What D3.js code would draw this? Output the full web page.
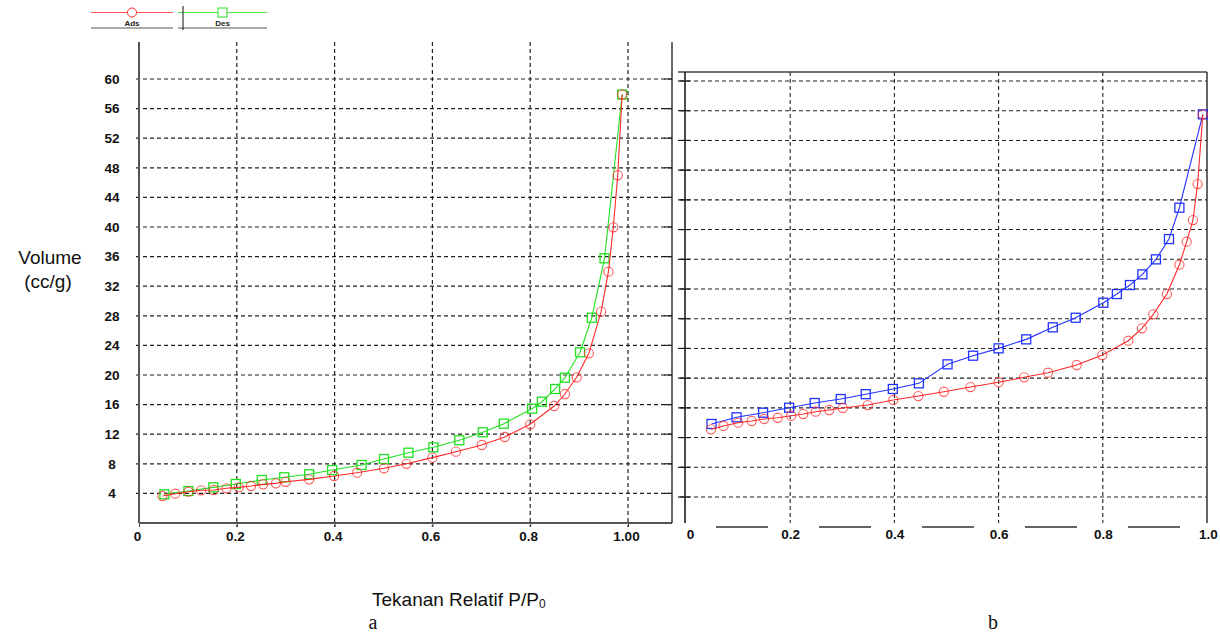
<!DOCTYPE html>
<html>
<head>
<meta charset="utf-8">
<script src="https://cdn.jsdelivr.net/npm/d3@7"></script>
<style>
  body { margin: 0; background: #fff; }
  svg { display: block; font-family: "Liberation Sans", Arial, sans-serif; }
</style>
</head>
<body>
<div id="chart"></div>
<script>
// Panel a: adsorption / desorption
const adsAx = [0.048, 0.074, 0.101, 0.127, 0.153, 0.179, 0.204, 0.229, 0.254, 0.28, 0.3, 0.348, 0.399, 0.446, 0.501, 0.547, 0.6, 0.648, 0.701, 0.748, 0.8, 0.849, 0.871, 0.895, 0.92, 0.945, 0.96, 0.97, 0.979, 0.988];
const adsAy = [3.65, 3.96, 4.23, 4.42, 4.46, 4.69, 4.82, 5.0, 5.22, 5.36, 5.57, 5.9, 6.35, 6.8, 7.39, 8.0, 8.83, 9.64, 10.54, 11.62, 13.34, 15.81, 17.43, 19.69, 22.93, 28.56, 33.96, 39.96, 46.99, 57.9];
const desAx = [0.052, 0.101, 0.152, 0.198, 0.251, 0.297, 0.348, 0.395, 0.455, 0.501, 0.551, 0.602, 0.655, 0.703, 0.746, 0.804, 0.824, 0.851, 0.871, 0.902, 0.926, 0.952, 0.988];
const desAy = [3.88, 4.32, 4.82, 5.27, 5.81, 6.18, 6.58, 7.16, 7.84, 8.65, 9.5, 10.23, 11.18, 12.26, 13.42, 15.45, 16.39, 18.11, 19.64, 23.07, 27.74, 35.77, 57.9];

// Panel b
const adsBx = [0.048, 0.072, 0.1, 0.126, 0.15, 0.176, 0.202, 0.225, 0.249, 0.275, 0.301, 0.349, 0.398, 0.446, 0.495, 0.546, 0.6, 0.649, 0.695, 0.75, 0.799, 0.849, 0.875, 0.897, 0.923, 0.947, 0.961, 0.973, 0.982, 0.992];
const adsBy = [13.11, 13.56, 14.0, 14.23, 14.5, 14.67, 14.94, 15.17, 15.48, 15.71, 15.98, 16.38, 17.06, 17.59, 18.17, 18.8, 19.45, 20.11, 20.73, 21.77, 23.11, 25.04, 26.71, 28.59, 31.32, 35.27, 38.37, 41.28, 46.13, 55.51];
const desBx = [0.049, 0.097, 0.148, 0.198, 0.247, 0.297, 0.345, 0.397, 0.447, 0.502, 0.551, 0.6, 0.653, 0.704, 0.748, 0.801, 0.827, 0.852, 0.876, 0.902, 0.927, 0.947, 0.992];
const desBy = [13.83, 14.73, 15.35, 16.02, 16.65, 17.19, 17.84, 18.54, 19.3, 21.86, 23.02, 24.01, 25.22, 26.84, 28.13, 30.15, 31.32, 32.53, 33.97, 35.99, 38.72, 42.94, 55.51];

// Tick values and labels
const yTicks = [4, 8, 12, 16, 20, 24, 28, 32, 36, 40, 44, 48, 52, 56, 60];
const xTicksA = [0, 0.2, 0.4, 0.6, 0.8, 1.0];
const xLabelsA = ["0", "0.2", "0.4", "0.6", "0.8", "1.00"];
const xTicksB = [0, 0.2, 0.4, 0.6, 0.8, 1.0];
const xLabelsB = ["0", "0.2", "0.4", "0.6", "0.8", "1.0"];
const legendNames = ["Ads", "Des"];

const W = 1220, H = 634;
const svg = d3.select("#chart").append("svg").attr("width", W).attr("height", H);

const red = "#ff2a2a", green = "#22e022", blue = "#2233ff";

function styleTicks(sel) {
    sel.selectAll("text")
        .style("font-family", "'Liberation Sans', Arial, sans-serif")
        .style("font-weight", "bold")
        .style("font-size", "13.5px")
        .attr("fill", "#111");
}

// ---------- Panel a ----------
const aLeft = 139, aRight = 672, aTop = 42, aBottom = 523;
const xA = d3.scaleLinear().domain([0, 1]).range([139, 628]);
const yA = d3.scaleLinear().domain([0, 60]).range([523, 79]);

// horizontal gridlines
svg.append("g").selectAll("line").data(yTicks).enter().append("line")
    .attr("x1", aLeft - 3).attr("x2", aRight)
    .attr("y1", d => yA(d)).attr("y2", d => yA(d))
    .attr("stroke", "#222").attr("stroke-width", 1.2).attr("stroke-dasharray", "4,3");
// vertical gridlines
svg.append("g").selectAll("line").data(xTicksA.slice(1)).enter().append("line")
    .attr("x1", d => xA(d)).attr("x2", d => xA(d))
    .attr("y1", aTop).attr("y2", aBottom + 4)
    .attr("stroke", "#222").attr("stroke-width", 1.2).attr("stroke-dasharray", "4,3");

// y axis labels
const yAxisA = d3.axisLeft(yA).tickValues(yTicks).tickSize(0).tickPadding(0);
const gyA = svg.append("g").attr("transform", "translate(" + aLeft + ",0)").call(yAxisA);
gyA.select(".domain").remove();
styleTicks(gyA);
gyA.selectAll("text").attr("x", -27).style("text-anchor", "middle");

// x axis labels
const xAxisA = d3.axisBottom(xA).tickValues(xTicksA).tickSize(4).tickSizeOuter(0)
    .tickFormat((d, i) => xLabelsA[i]).tickPadding(4);
const gxA = svg.append("g").attr("transform", "translate(0," + aBottom + ")").call(xAxisA);
gxA.select(".domain").remove();
gxA.selectAll("line").attr("stroke", "#444");
styleTicks(gxA);
gxA.selectAll("text").attr("dx", -2);

// frame of panel a
svg.append("line").attr("x1", aLeft).attr("x2", aLeft).attr("y1", aTop).attr("y2", aBottom)
    .attr("stroke", "#555").attr("stroke-width", 2);
svg.append("line").attr("x1", aLeft).attr("x2", aRight).attr("y1", aBottom).attr("y2", aBottom)
    .attr("stroke", "#555").attr("stroke-width", 2);
svg.append("line").attr("x1", aRight).attr("x2", aRight).attr("y1", aTop).attr("y2", aBottom)
    .attr("stroke", "#333").attr("stroke-width", 1.5);
svg.append("g").selectAll("line").data(yTicks).enter().append("line")
    .attr("x1", aRight - 8).attr("x2", aRight)
    .attr("y1", d => yA(d)).attr("y2", d => yA(d))
    .attr("stroke", "#222").attr("stroke-width", 1.2);

// ---------- Panel b ----------
const bLeft = 685, bRight = 1207, bTop = 72, bBottom = 523;
const xB = d3.scaleLinear().domain([0, 1]).range([686, 1207]);
const yB = d3.scaleLinear().domain([4, 60]).range([497, 81]);

svg.append("g").selectAll("line").data(yTicks).enter().append("line")
    .attr("x1", bLeft - 5).attr("x2", bRight)
    .attr("y1", d => yB(d)).attr("y2", d => yB(d))
    .attr("stroke", "#222").attr("stroke-width", 1.1).attr("stroke-dasharray", "4,3");
svg.append("g").selectAll("line").data(xTicksB.slice(1, 5)).enter().append("line")
    .attr("x1", d => xB(d)).attr("x2", d => xB(d))
    .attr("y1", bTop).attr("y2", bBottom)
    .attr("stroke", "#222").attr("stroke-width", 1.1).attr("stroke-dasharray", "4,3");

const xAxisB = d3.axisBottom(xB).tickValues(xTicksB).tickSize(0)
    .tickFormat((d, i) => xLabelsB[i]).tickPadding(6);
const gxB = svg.append("g").attr("transform", "translate(0," + bBottom + ")").call(xAxisB);
gxB.select(".domain").remove();
styleTicks(gxB);
gxB.selectAll("text").attr("dx", (d, i) => i === 0 ? 4 : (i === xTicksB.length - 1 ? 1 : 0));

// frame of panel b
svg.append("line").attr("x1", bLeft - 7).attr("x2", bRight).attr("y1", bTop).attr("y2", bTop)
    .attr("stroke", "#444").attr("stroke-width", 1.5);
svg.append("line").attr("x1", bLeft).attr("x2", bLeft).attr("y1", bTop).attr("y2", bBottom)
    .attr("stroke", "#111").attr("stroke-width", 1.5);
svg.append("line").attr("x1", bRight).attr("x2", bRight).attr("y1", bTop).attr("y2", bBottom)
    .attr("stroke", "#333").attr("stroke-width", 1.5);
svg.append("line").attr("x1", 716).attr("x2", bRight - 20).attr("y1", 527).attr("y2", 527)
    .attr("stroke", "#666").attr("stroke-width", 2).attr("stroke-dasharray", "52,51");
svg.append("g").selectAll("line").data(yTicks).enter().append("line")
    .attr("x1", bLeft - 7).attr("x2", bLeft + 5)
    .attr("y1", d => yB(d)).attr("y2", d => yB(d))
    .attr("stroke", "#111").attr("stroke-width", 1.2);

// ---------- Series ----------
function drawSeries(xs, ys, xScale, yScale, color, shape) {
    const pts = xs.map((x, i) => [xScale(x), yScale(ys[i])]);
    svg.append("path").datum(pts)
        .attr("d", d3.line())
        .attr("fill", "none").attr("stroke", color).attr("stroke-width", 1.1);
    const g = svg.append("g");
    if (shape === "circle") {
        g.selectAll("circle").data(pts).enter().append("circle")
            .attr("cx", d => d[0]).attr("cy", d => d[1]).attr("r", 4.6)
            .attr("fill", "none").attr("stroke", color).attr("stroke-width", 1.1)
            .attr("stroke-opacity", 0.75);
    } else {
        g.selectAll("rect").data(pts).enter().append("rect")
            .attr("x", d => d[0] - 4.5).attr("y", d => d[1] - 4.5)
            .attr("width", 9).attr("height", 9)
            .attr("fill", "none").attr("stroke", color).attr("stroke-width", 1.3);
    }
}
drawSeries(desAx, desAy, xA, yA, green, "square");
drawSeries(adsAx, adsAy, xA, yA, red, "circle");
drawSeries(desBx, desBy, xB, yB, blue, "square");
drawSeries(adsBx, adsBy, xB, yB, red, "circle");

// ---------- Legend ----------
const legend = svg.append("g");
const legendItems = [
    { name: legendNames[0], color: red, shape: "circle", x1: 91, x2: 173 },
    { name: legendNames[1], color: green, shape: "square", x1: 178, x2: 267 }
];
legendItems.forEach(it => {
    const cx = (it.x1 + it.x2) / 2;
    legend.append("line").attr("x1", it.x1).attr("x2", it.x2).attr("y1", 12.5).attr("y2", 12.5)
        .attr("stroke", it.color).attr("stroke-width", 1).attr("stroke-opacity", 0.8);
    if (it.shape === "circle") {
        legend.append("circle").attr("cx", cx).attr("cy", 12.5).attr("r", 4.5)
            .attr("fill", "#fff").attr("stroke", it.color).attr("stroke-width", 1);
    } else {
        legend.append("rect").attr("x", cx - 4.5).attr("y", 8).attr("width", 9).attr("height", 9)
            .attr("fill", "#fff").attr("stroke", it.color).attr("stroke-width", 1);
    }
    legend.append("text").attr("x", cx).attr("y", 26).attr("text-anchor", "middle")
        .style("font-size", "8px").style("font-weight", "bold").attr("fill", "#222").text(it.name);
    legend.append("line").attr("x1", it.x1).attr("x2", it.x2).attr("y1", 28).attr("y2", 28)
        .attr("stroke", "#555").attr("stroke-width", 1);
});
legend.append("line").attr("x1", 183).attr("x2", 183).attr("y1", 6).attr("y2", 30)
    .attr("stroke", "#111").attr("stroke-width", 1);

// ---------- Titles ----------
svg.append("text").attr("x", 50).attr("y", 264).attr("text-anchor", "middle")
    .style("font-size", "19px").attr("fill", "#111").text("Volume");
svg.append("text").attr("x", 48).attr("y", 288).attr("text-anchor", "middle")
    .style("font-size", "19px").attr("fill", "#111").text("(cc/g)");
const xt = svg.append("text").attr("x", 372).attr("y", 606)
    .style("font-size", "19px").attr("fill", "#111");
xt.append("tspan").text("Tekanan Relatif P/P");
xt.append("tspan").attr("dy", 2).style("font-size", "12px").text("0");
svg.append("text").attr("x", 373).attr("y", 629).attr("text-anchor", "middle")
    .style("font-family", "'Liberation Serif', 'Times New Roman', serif")
    .style("font-size", "20px").attr("fill", "#111").text("a");
svg.append("text").attr("x", 993).attr("y", 629).attr("text-anchor", "middle")
    .style("font-family", "'Liberation Serif', 'Times New Roman', serif")
    .style("font-size", "20px").attr("fill", "#111").text("b");
</script>
</body>
</html>
